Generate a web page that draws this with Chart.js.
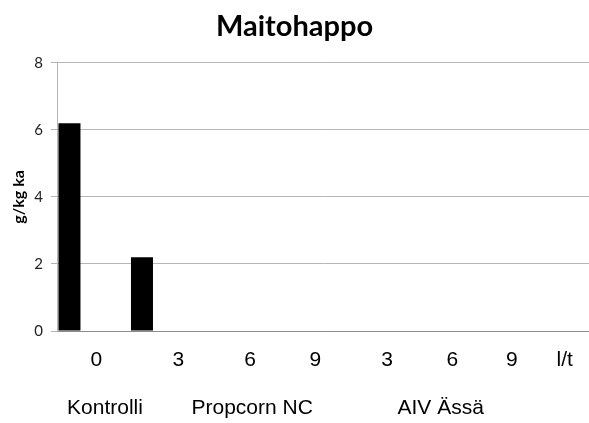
<!DOCTYPE html>
<html>
<head>
<meta charset="utf-8">
<script src="https://cdn.jsdelivr.net/npm/chart.js@4/dist/chart.umd.min.js"></script>
<style>
  html, body { margin: 0; padding: 0; background: #ffffff; }
  #wrap { width: 589px; height: 423px; }
</style>
</head>
<body>
<div id="wrap"><canvas id="maitoChart"></canvas></div>
<script>
// Data
const categories = ["0", "3", "6", "9", "3", "6", "9"];
const unitLabel = "l/t";
const groups = ["Kontrolli", "Propcorn NC", "AIV Ässä"];
const maitohappo = [6.2, 2.2, 0, 0, 0, 0, 0];
const yTicks = [0, 2, 4, 6, 8];

// where the hand-placed labels sit, in category units
const tickLabelPos = [0.37, 1.5, 2.49, 3.39, 4.38, 5.28, 6.1, 6.83];
const groupLabelPos = [0.49, 2.52, 5.12];

const tickLabels = categories.concat([unitLabel]);

const ctx = document.getElementById("maitoChart").getContext("2d");

new Chart(ctx, {
  type: "bar",
  data: {
    datasets: [
      {
        label: "Maitohappo",
        data: maitohappo.map(function (v, i) { return { x: i, y: v }; }),
        backgroundColor: "#000000",
        borderWidth: 0,
        inflateAmount: 0,
        barThickness: 22,
        xAxisID: "x",
      },
    ],
  },
  options: {
    responsive: true,
    maintainAspectRatio: false,
    animation: false,
    layout: { padding: 0 },
    plugins: {
      legend: { display: false },
      tooltip: { enabled: false },
      title: {
        display: true,
        text: "Maitohappo",
        color: "#000000",
        font: { family: "Lato", size: 29, weight: "bold" },
        padding: { top: 9, bottom: 19 },
      },
    },
    scales: {
      x: {
        type: "linear",
        position: "bottom",
        weight: 0,
        offset: false,
        min: -0.172,
        max: 7.166,
        grid: { display: false },
        border: { display: true, color: "#8c8c8c" },
        afterBuildTicks: function (scale) {
          scale.ticks = tickLabelPos.map(function (v) { return { value: v }; });
        },
        afterFit: function (scale) { scale.height = 40; },
        ticks: {
          autoSkip: false,
          maxRotation: 0,
          padding: 9,
          color: "#000000",
          font: { family: "Liberation Sans", size: 21 },
          callback: function (value, index) { return tickLabels[index]; },
        },
      },
      xg: {
        type: "linear",
        position: "bottom",
        weight: 1,
        offset: false,
        min: -0.172,
        max: 7.166,
        grid: { display: false },
        border: { display: false },
        afterBuildTicks: function (scale) {
          scale.ticks = groupLabelPos.map(function (v) { return { value: v }; });
        },
        afterFit: function (scale) { scale.height = 52; },
        ticks: {
          autoSkip: false,
          maxRotation: 0,
          padding: 17,
          color: "#000000",
          font: { family: "Liberation Sans", size: 21 },
          callback: function (value, index) { return groups[index]; },
        },
      },
      y: {
        min: 0,
        max: 8,
        afterBuildTicks: function (scale) {
          scale.ticks = yTicks.map(function (v) { return { value: v }; });
        },
        afterFit: function (scale) { scale.width = 57; },
        grid: {
          color: "#b5b5b5",
          tickLength: 6,
        },
        border: { display: true, color: "#b5b5b5" },
        ticks: {
          padding: 8,
          color: "#222222",
          font: { family: "Lato", size: 15 },
        },
        title: {
          display: true,
          text: "g/kg ka",
          color: "#000000",
          font: { family: "Lato", size: 16, weight: "bold" },
          padding: { top: 9, bottom: 0 },
        },
      },
    },
  },
});
</script>
</body>
</html>
